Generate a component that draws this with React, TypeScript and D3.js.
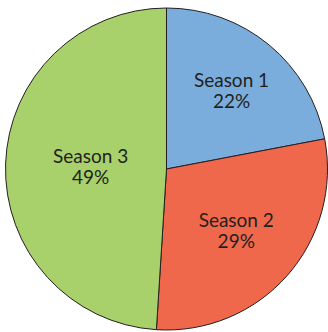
import React from "react";
import * as d3 from "d3";

const categories = ["Season 1", "Season 2", "Season 3"];
const values = [22, 29, 49];
const colors = ["#7aaddb", "#f0684b", "#a8d06b"];

const W = 328;
const H = 332;
const cx = 166.5;
const cy = 169;
const R = 161;
const labelRadius = [102, 93, 76];

export default function App() {
  const pie = d3.pie<number>().sort(null).value((d) => d)(values);
  const arc = d3.arc<d3.PieArcDatum<number>>().innerRadius(0).outerRadius(R);
  return (
    <svg width={W} height={H} style={{ position: "absolute", left: 0, top: 0 }}>
      <g transform={`translate(${cx},${cy})`}>
        {pie.map((p, i) => (
          <path key={i} d={arc(p) || ""} fill={colors[i]} stroke="#231f20" strokeWidth={1} />
        ))}
        {pie.map((p, i) => {
          const a = (p.startAngle + p.endAngle) / 2;
          const x = Math.sin(a) * labelRadius[i];
          const y = -Math.cos(a) * labelRadius[i];
          return (
            <text key={i} x={x} y={y} textAnchor="middle" fontFamily="Lato" fontSize={19} fill="#231f20">
              <tspan x={x} dy="-0.2em">{categories[i]}</tspan>
              <tspan x={x} dy="1.1em">{`${values[i]}%`}</tspan>
            </text>
          );
        })}
      </g>
    </svg>
  );
}
